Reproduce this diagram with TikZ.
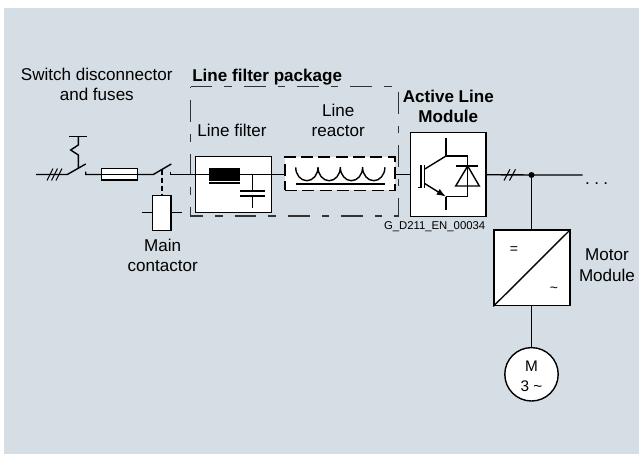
\documentclass[tikz,border=0pt]{standalone}
\usepackage{fontspec}
\setmainfont{Liberation Sans}
\usetikzlibrary{arrows.meta}
\definecolor{bgc}{HTML}{D5DEE4}
\tikzset{
  wire/.style={draw=black,line width=1.05pt},
  thinwire/.style={draw=black,line width=.8pt},
  box/.style={draw=black,fill=white,line width=1.05pt,inner sep=0pt,minimum width=0pt,minimum height=0pt},
  lbl/.style={font=\fontsize{12.8pt}{15pt}\selectfont,align=center,inner sep=0pt,anchor=base},
  bold lbl/.style={lbl,font=\fontsize{12.8pt}{15pt}\selectfont\bfseries},
  pkgdash/.style={draw=black!80,line width=.8pt,dash pattern=on 16.3pt off 9pt on 5.6pt off 9pt},
  reactdash/.style={draw=black,line width=1.05pt,dash pattern=on 9pt off 4pt},
}
\begin{document}
\begin{tikzpicture}[x=.75pt,y=-.75pt]
\useasboundingbox (0,0) rectangle (639,454);
\fill[bgc] (4,8) rectangle (639,454);

% labels
\node[lbl] (t1) at (96.8,80.7) {Switch disconnector};
\node[lbl] (t2) at (96.8,100) {and fuses};
\node[bold lbl,anchor=base west] (t3) at (192,81.7) {Line filter package};
\node[lbl] (t4) at (232,136.7) {Line filter};
\node[lbl] (t5) at (338.3,116) {Line};
\node[lbl] (t6) at (338.3,136) {reactor};
\node[bold lbl] (t7) at (448.3,102.7) {Active Line};
\node[bold lbl] (t8) at (448.3,122.7) {Module};
\node[lbl] (t9) at (162.7,251.7) {Main};
\node[lbl] (t10) at (162.7,271.7) {contactor};
\node[lbl] (t11) at (607,260.7) {Motor};
\node[lbl] (t12) at (607,281.7) {Module};
\node[lbl,anchor=base east,font=\fontsize{8.5pt}{10pt}\selectfont] (t13) at (485.5,229.3) {G\_D211\_EN\_00034};
\node[lbl] (t14) at (596.7,184) {.\hspace{3.3pt}.\hspace{3.3pt}.};

% package outline
\node[minimum width=207.6*.75pt,minimum height=129.3*.75pt,inner sep=0pt,outer sep=0pt] (pkg) at (294.5,151.35) {};
\draw[pkgdash] (pkg.north west) -- (pkg.north east) -- (pkg.south east) -- (pkg.south west) -- cycle;

% coordinates on the main line
\coordinate (L0) at (36,174.5);
\coordinate (sw1) at (67.3,174.5);
\coordinate (sw1b) at (85.7,164);
\coordinate (c1) at (85.7,174.5);
\coordinate (sw2) at (153.3,174.5);
\coordinate (sw2b) at (171.3,164);
\coordinate (c2) at (170.3,174.5);

% main line, left part
\draw[wire] (L0) -- (sw1) -- (sw1b);
\draw[wire] (85.7,171.5) -- (c1) -- (sw2) -- (sw2b);
\draw[wire] (170.3,171.5) -- (c2) -- (285,174.5);

% three slashes
\foreach \d in {0,4.5,9}
  \draw[thinwire] (47+\d,180.5) -- (53+\d,168.5);

% disconnector mechanism
\draw[wire] (69.3,136.7) -- (86.7,136.7);
\draw[wire] (78.3,136.7) -- (78.3,145) -- (70.7,150) -- (78.3,155) -- (78.3,168.5);

% fuse
\node[box,minimum width=36.3*.75pt,minimum height=11.3*.75pt] (fuse) at (119.4,174.4) {};
\draw[wire] (fuse.west) -- (fuse.east);

% contactor
\node[box,minimum width=18.3*.75pt,minimum height=34.6*.75pt] (coil) at (161.9,213) {};
\coordinate (dtop) at (161.9,170);
\draw[wire,dash pattern=on 4pt off 2pt] (dtop) -- (coil.north);
\coordinate (cl) at (141.7,212.7);
\coordinate (cr) at (182.3,212.7);
\draw[wire] (cl) -- (coil.west |- cl);
\draw[wire] (coil.east |- cr) -- (cr);

% line filter
\node[box,minimum width=75.6*.75pt,minimum height=55.6*.75pt] (lf) at (233.5,184.5) {};
\draw[wire] (190,174.5) -- (285,174.5);
\fill[black] (209,168) rectangle (240,180.7);
\draw[wire] (209,183) -- (240,183);
\draw[wire] (252.7,174.5) -- (252.7,191);
\draw[wire] (240.3,191) -- (265,191);
\draw[wire] (240.3,196) -- (265,196);
\draw[wire] (252.7,196) -- (252.7,207.7);

% reactor
\fill[white] (285,157) rectangle (395,190.3);
\node[reactdash,minimum width=110*.75pt,minimum height=33.3*.75pt,inner sep=0pt] (lr) at (340,173.65) {};
\draw[wire] (295.7,167.3) arc[start angle=180,end angle=0,x radius=11.15,y radius=13.4]
  arc[start angle=180,end angle=0,x radius=11.15,y radius=13.4]
  arc[start angle=180,end angle=0,x radius=11.15,y radius=13.4]
  arc[start angle=180,end angle=0,x radius=11.15,y radius=13.4];
\draw[wire] (295.7,184) -- (385,184);

% active line module
\node[box,minimum width=75.7*.75pt,minimum height=84*.75pt] (alm) at (448.2,174.7) {};
\draw[wire] (lr.east |- alm.west) -- (alm.west);
\coordinate (jn) at (531.5,175);
\coordinate (ends) at (582.7,175);
\draw[wire] (alm.east) -- (jn) -- (ends);
\fill[black] (jn) circle[radius=3];
\foreach \d in {0,5.5}
  \draw[thinwire] (504+\d,180.5) -- (510+\d,169.3);

% IGBT
\draw[wire] (417.7,187.5) -- (421,187.5) -- (421,165);
\draw[thinwire] (424.3,165) -- (424.3,188.3);
\draw[wire] (424.3,169.3) -- (446,156);
\draw[wire] (446,138.3) -- (446,156) -- (467.7,156) -- (467.7,196.7) -- (446,196.7);
\draw[wire] (446,196.7) -- (446,210);
\draw[wire,-{Latex[length=7pt,width=5pt]}] (424.3,183.3) -- (446,196.7);
% diode
\draw[wire] (467.7,166) -- (455.7,186) -- (479.3,186) -- cycle;
\draw[wire] (456.3,166) -- (478.3,166);

% motor module
\node[box,minimum width=76*.75pt,minimum height=75.7*.75pt] (mm) at (532,267.85) {};
\draw[wire] (mm.south west) -- (mm.north east);
\draw[wire] (jn) -- (jn |- mm.north);
\node[lbl,anchor=center,font=\fontsize{10.5pt}{12pt}\selectfont] (eq) at (514,250) {=};
\node[lbl,anchor=center,font=\fontsize{10.5pt}{12pt}\selectfont] (tilde) at (554,290) {\textasciitilde};

% motor
\node[box,circle,minimum size=53.4*.75pt] (mot) at (531.5,374.3) {};
\draw[wire] (mm.south -| mot.north) -- (mot.north);
\node[lbl,font=\fontsize{11.5pt}{13pt}\selectfont] (m1) at (531.5,371) {M};
\node[lbl,font=\fontsize{11.5pt}{13pt}\selectfont] (m2) at (531.5,391) {3 \textasciitilde};
\end{tikzpicture}
\end{document}
